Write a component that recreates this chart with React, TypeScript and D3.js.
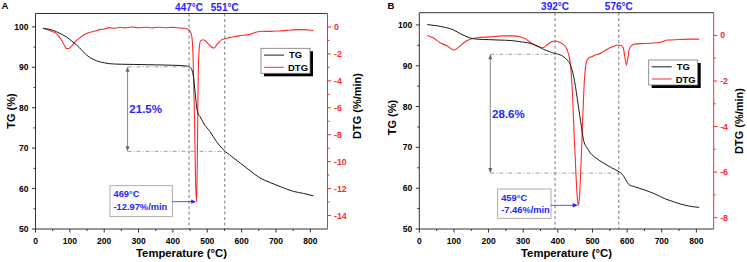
import React from 'react';
import * as d3 from 'd3';

type P = [number, number];

// ---------- data ----------
const T_TICKS = [0, 100, 200, 300, 400, 500, 600, 700, 800];
const T_MINOR = [50, 150, 250, 350, 450, 550, 650, 750];
const TG_TICKS = [50, 60, 70, 80, 90, 100];
const TG_MINOR = [55, 65, 75, 85, 95];
const DTG_TICKS_A = [0, -2, -4, -6, -8, -10, -12, -14];
const DTG_MINOR_A = [-1, -3, -5, -7, -9, -11, -13];
const DTG_TICKS_B = [0, -2, -4, -6, -8];
const DTG_MINOR_B = [-1, -3, -5, -7];

const tgA: P[] = [
  [22, 99.6], [40, 99.4], [61, 98.8], [75, 98.2], [90, 97.5], [105, 96.5], [120, 95.5],
  [135, 94.2], [149, 93.0], [165, 92.1], [178, 91.6], [200, 91.1], [230, 90.8], [285, 90.7],
  [350, 90.6], [400, 90.5], [441, 90.3], [450, 90.0], [455, 89.4], [460, 87.5], [465, 83.5],
  [470, 79.6], [475, 78.2], [479, 77.8], [489, 76.2], [508, 74.1], [527, 71.6], [547, 69.6],
  [570, 68.0], [596, 66.3], [625, 64.4], [654, 62.6], [680, 61.6], [712, 60.5], [751, 59.3],
  [780, 58.8], [809, 58.2],
];
const dtgA: P[] = [
  [22, -0.1], [35, -0.2], [50, -0.35], [61, -0.5], [75, -0.95], [85, -1.4], [90, -1.6],
  [97, -1.6], [105, -1.43], [115, -1.1], [129, -0.81], [140, -0.6], [158, -0.4], [175, -0.28],
  [187, -0.2], [200, -0.15], [215, -0.05], [230, -0.1], [245, -0.02], [260, -0.07], [280, 0.0],
  [300, -0.06], [320, -0.02], [340, -0.07], [360, -0.02], [380, -0.06], [400, -0.03],
  [420, -0.08], [435, -0.1], [445, -0.2], [452, -0.4], [456, -0.9], [459, -2.5], [463, -7.0],
  [466, -11.5], [469, -12.97], [471, -10.0], [473, -5.0], [476, -1.8], [480, -1.05],
  [487, -0.95], [495, -1.05], [505, -1.3], [513, -1.5], [520, -1.56], [528, -1.3], [535, -1.1],
  [542, -0.94], [555, -0.85], [566, -0.77], [580, -0.72], [596, -0.64], [610, -0.6],
  [625, -0.55], [635, -0.45], [644, -0.37], [660, -0.32], [683, -0.33], [700, -0.3],
  [712, -0.3], [730, -0.25], [745, -0.22], [761, -0.2], [780, -0.2], [795, -0.22], [809, -0.25],
];

const tgB: P[] = [
  [23, 100.1], [50, 99.8], [75, 99.4], [98, 98.8], [120, 97.8], [147, 96.8], [170, 96.5],
  [200, 96.4], [230, 96.3], [262, 96.2], [290, 95.9], [320, 95.5], [340, 94.9], [359, 94.0],
  [375, 93.5], [387, 93.1], [398, 92.9], [415, 92.3], [427, 91.4], [435, 90.5], [441, 89.0],
  [446, 87.2], [451, 84.9], [456, 82.0], [461, 79.1], [466, 76.3], [470, 73.9], [475, 71.5],
  [485, 69.8], [494, 68.6], [510, 67.4], [533, 66.1], [555, 65.0], [577, 64.0], [585, 63.5],
  [591, 62.8], [598, 61.8], [605, 60.9], [620, 60.4], [649, 59.6], [680, 58.6], [707, 57.5],
  [730, 56.8], [755, 56.1], [780, 55.6], [808, 55.3],
];
const dtgB: P[] = [
  [23, 0.0], [40, -0.1], [60, -0.32], [80, -0.45], [100, -0.64], [115, -0.5], [130, -0.3],
  [147, -0.17], [166, -0.1], [205, -0.06], [240, -0.02], [270, -0.02], [295, -0.08],
  [308, -0.16], [320, -0.3], [337, -0.45], [350, -0.52], [357, -0.54], [370, -0.4],
  [382, -0.28], [392, -0.24], [405, -0.3], [420, -0.45], [427, -0.64], [433, -0.95],
  [437, -1.37], [442, -2.5], [447, -4.3], [452, -6.0], [456, -7.1], [459, -7.46], [462, -7.2],
  [466, -6.0], [470, -4.4], [474, -2.8], [477, -1.9], [480, -1.37], [484, -1.1], [490, -0.98],
  [500, -0.92], [507, -0.86], [514, -0.84], [530, -0.72], [546, -0.57], [560, -0.48],
  [572, -0.42], [583, -0.44], [589, -0.55], [593, -0.9], [598, -1.3], [602, -1.0], [606, -0.6],
  [614, -0.43], [621, -0.38], [650, -0.35], [688, -0.32], [700, -0.28], [717, -0.2],
  [750, -0.18], [784, -0.16], [808, -0.16],
];

const TEMP_LINES_A = [447, 551];
const TEMP_LINES_B = [392, 576];
const LEVELS_A = [90.1, 69.2];
const LEVELS_B = [92.8, 63.7];
const LOSS_A = '21.5%';
const LOSS_B = '28.6%';
const PEAK_A = { t: 469, v: -12.97, l1: '469°C', l2: '-12.97%/min' };
const PEAK_B = { t: 459, v: -7.46, l1: '459°C', l2: '-7.46%/min' };

// ---------- layout ----------
const FONT = '"Liberation Sans", Arial, Helvetica, sans-serif';
const BLUE = '#2424ff';
const RED = '#ff2a2a';
const CURVE_BLACK = '#1a1a1a';

interface Cfg {
  letter: string;
  x0: number; x1: number; y0: number; y1: number;
  tgDomain: [number, number];
  dtgDomain: [number, number];
  dtgTicks: number[]; dtgMinor: number[];
  tg: P[]; dtg: P[];
  tempLines: number[];
  levels: number[];
  lossText: string;
  levelStartT: number;
  peak: { t: number; v: number; l1: string; l2: string };
  box: { x: number; y: number; w: number; h: number };
  legend: { x: number; y: number };
  leftTitleY: number; rightTitleY: number;
  leftTitleX: number; rightTitleX: number;
  topLabelY: number;
}

const cfgA: Cfg = {
  letter: 'A',
  x0: 35.5, x1: 327.5, y0: 13.5, y1: 229,
  tgDomain: [50, 103.3], dtgDomain: [-15, 1],
  dtgTicks: DTG_TICKS_A, dtgMinor: DTG_MINOR_A,
  tg: tgA, dtg: dtgA,
  tempLines: TEMP_LINES_A, levels: LEVELS_A, lossText: LOSS_A, levelStartT: 268,
  peak: PEAK_A,
  box: { x: 110, y: 185.7, w: 62.3, h: 31 },
  legend: { x: 261, y: 48.3 },
  leftTitleY: 111, rightTitleY: 106, leftTitleX: 15, rightTitleX: 360.5,
  topLabelY: 10.7,
};

const cfgB: Cfg = {
  letter: 'B',
  x0: 419.3, x1: 713.7, y0: 12.7, y1: 229,
  tgDomain: [50, 103.0], dtgDomain: [-8.5, 1],
  dtgTicks: DTG_TICKS_B, dtgMinor: DTG_MINOR_B,
  tg: tgB, dtg: dtgB,
  tempLines: TEMP_LINES_B, levels: LEVELS_B, lossText: LOSS_B, levelStartT: 205,
  peak: PEAK_B,
  box: { x: 497.7, y: 189, w: 53.3, h: 29.3 },
  legend: { x: 648.7, y: 60 },
  leftTitleY: 117.5, rightTitleY: 121, leftTitleX: 395.5, rightTitleX: 742.5,
  topLabelY: 9.8,
};

function Panel({ c }: { c: Cfg }) {
  const x = d3.scaleLinear().domain([0, 850]).range([c.x0, c.x1]);
  const yL = d3.scaleLinear().domain(c.tgDomain).range([c.y1, c.y0]);
  const yR = d3.scaleLinear().domain(c.dtgDomain).range([c.y1, c.y0]);
  const lineTG = d3.line<P>().x((d) => x(d[0])).y((d) => yL(d[1])).curve(d3.curveMonotoneX);
  const lineDTG = d3.line<P>().x((d) => x(d[0])).y((d) => yR(d[1])).curve(d3.curveMonotoneX);

  const axisColor = '#333';
  const ax = x(c.levelStartT);
  const [up, lo] = c.levels;
  const yUp = yL(up);
  const yLo = yL(lo);
  const px = x(c.peak.t);
  const py = yR(c.peak.v);
  const arrowY = py;
  const midY = (yUp + yLo) / 2;

  return (
    <g fontFamily={FONT} fontWeight="bold">
      {/* panel letter */}
      <text x={c.letter === 'A' ? 1.5 : 387.5} y={9.3} fontSize={9.5} fill="#000">{c.letter}</text>

      {/* curves */}
      <path d={lineDTG(c.dtg) || ''} fill="none" stroke={RED} strokeWidth={1.1} />
      <path d={lineTG(c.tg) || ''} fill="none" stroke={CURVE_BLACK} strokeWidth={1} />

      {/* vertical dashed temperature lines + labels */}
      {c.tempLines.map((t) => (
        <g key={'v' + t}>
          <line x1={x(t)} x2={x(t)} y1={c.y0} y2={c.y1} stroke="#555" strokeWidth={0.8} strokeDasharray="3,2.5" />
          <text x={x(t)} y={c.topLabelY} textAnchor="middle" fontSize={10} fill={BLUE}>{t}°C</text>
        </g>
      ))}

      {/* horizontal dash-dot level lines */}
      <line x1={ax} x2={x(c.tempLines[0])} y1={yUp} y2={yUp} stroke="#888" strokeWidth={0.8} strokeDasharray="4,2,1,2" />
      <line x1={ax} x2={x(c.tempLines[1])} y1={yLo} y2={yLo} stroke="#888" strokeWidth={0.8} strokeDasharray="4,2,1,2" />

      {/* double arrow */}
      <line x1={ax} x2={ax} y1={yUp + 1} y2={yLo - 1} stroke="#666" strokeWidth={0.8} />
      <path d={`M${ax},${yUp} l-2,5 l4,0 z`} fill="#666" />
      <path d={`M${ax},${yLo} l-2,-5 l4,0 z`} fill="#666" />
      <text x={ax + 1.8} y={midY + 4} fontSize={11.5} fill={BLUE}>{c.lossText}</text>

      {/* peak annotation */}
      <rect x={c.box.x} y={c.box.y} width={c.box.w} height={c.box.h} fill="#fff" stroke="#999" strokeWidth={0.8} />
      <text x={c.box.x + 3.5} y={c.box.y + 11.7} fontSize={9.3} fill={BLUE}>{c.peak.l1}</text>
      <text x={c.box.x + 3.5} y={c.box.y + 24} fontSize={9.3} fill={BLUE}>{c.peak.l2}</text>
      <line x1={c.box.x + c.box.w} x2={px - 4} y1={arrowY} y2={arrowY} stroke={BLUE} strokeWidth={0.8} />
      <path d={`M${px - 0.5},${arrowY} l-5,-2.2 l0,4.4 z`} fill={BLUE} />

      {/* frame: top + left + bottom */}
      <line x1={c.x0} x2={c.x1} y1={c.y0} y2={c.y0} stroke={axisColor} strokeWidth={1} />
      <line x1={c.x0} x2={c.x0} y1={c.y0} y2={c.y1} stroke={axisColor} strokeWidth={1} />
      <line x1={c.x0} x2={c.x1} y1={c.y1} y2={c.y1} stroke={axisColor} strokeWidth={1} />
      {/* right axis red */}
      <line x1={c.x1} x2={c.x1} y1={c.y0} y2={c.y1} stroke={RED} strokeWidth={1} />

      {/* bottom ticks */}
      {T_TICKS.map((t) => (
        <g key={'bt' + t}>
          <line x1={x(t)} x2={x(t)} y1={c.y1} y2={c.y1 + 3.5} stroke={axisColor} strokeWidth={1} />
          <text x={x(t)} y={243.5} textAnchor="middle" fontSize={8.5} fill="#000">{t}</text>
        </g>
      ))}
      {T_MINOR.map((t) => (
        <line key={'bm' + t} x1={x(t)} x2={x(t)} y1={c.y1} y2={c.y1 + 2} stroke={axisColor} strokeWidth={1} />
      ))}

      {/* left ticks */}
      {TG_TICKS.map((v) => (
        <g key={'lt' + v}>
          <line x1={c.x0 - 3.5} x2={c.x0} y1={yL(v)} y2={yL(v)} stroke={axisColor} strokeWidth={1} />
          <text x={c.x0 - 7} y={yL(v) + 3} textAnchor="end" fontSize={8.5} fill="#000">{v}</text>
        </g>
      ))}
      {TG_MINOR.map((v) => (
        <line key={'lm' + v} x1={c.x0 - 2} x2={c.x0} y1={yL(v)} y2={yL(v)} stroke={axisColor} strokeWidth={1} />
      ))}

      {/* right ticks */}
      {c.dtgTicks.map((v) => (
        <g key={'rt' + v}>
          <line x1={c.x1} x2={c.x1 + 3.5} y1={yR(v)} y2={yR(v)} stroke={RED} strokeWidth={1} />
          <text x={c.x1 + 6.5} y={yR(v) + 3} textAnchor="start" fontSize={8.8} fill={RED}>{v === 0 ? '0' : String(v)}</text>
        </g>
      ))}
      {c.dtgMinor.map((v) => (
        <line key={'rm' + v} x1={c.x1} x2={c.x1 + 2} y1={yR(v)} y2={yR(v)} stroke={RED} strokeWidth={1} />
      ))}

      {/* axis titles */}
      <text x={(c.x0 + c.x1) / 2} y={256.5} textAnchor="middle" fontSize={11.3} fill="#000">Temperature (°C)</text>
      <text transform={`translate(${c.leftTitleX},${c.leftTitleY}) rotate(-90)`} textAnchor="middle" fontSize={11} fill="#000">TG (%)</text>
      <text transform={`translate(${c.rightTitleX},${c.rightTitleY}) rotate(-90)`} textAnchor="middle" fontSize={11} fill="#000">DTG (%/min)</text>

      {/* legend */}
      <g>
        <rect x={c.legend.x + 3} y={c.legend.y + 3} width={49} height={25} fill="#000" />
        <rect x={c.legend.x} y={c.legend.y} width={49} height={25} fill="#fff" stroke="#777" strokeWidth={0.8} />
        <line x1={c.legend.x + 3} x2={c.legend.x + 23} y1={c.legend.y + 6.8} y2={c.legend.y + 6.8} stroke={CURVE_BLACK} strokeWidth={1} />
        <text x={c.legend.x + 28} y={c.legend.y + 10} fontSize={9.5} fill="#000">TG</text>
        <line x1={c.legend.x + 3} x2={c.legend.x + 23} y1={c.legend.y + 19} y2={c.legend.y + 19} stroke={RED} strokeWidth={1} />
        <text x={c.legend.x + 27} y={c.legend.y + 22.5} fontSize={9.5} fill="#000">DTG</text>
      </g>
    </g>
  );
}

export default function App() {
  return (
    <svg
      width={747}
      height={262}
      viewBox="0 0 747 262"
      style={{ position: 'absolute', left: 0, top: 0, background: '#fff', display: 'block' }}
    >
      <rect x={0} y={0} width={747} height={262} fill="#fff" />
      <Panel c={cfgA} />
      <Panel c={cfgB} />
    </svg>
  );
}
